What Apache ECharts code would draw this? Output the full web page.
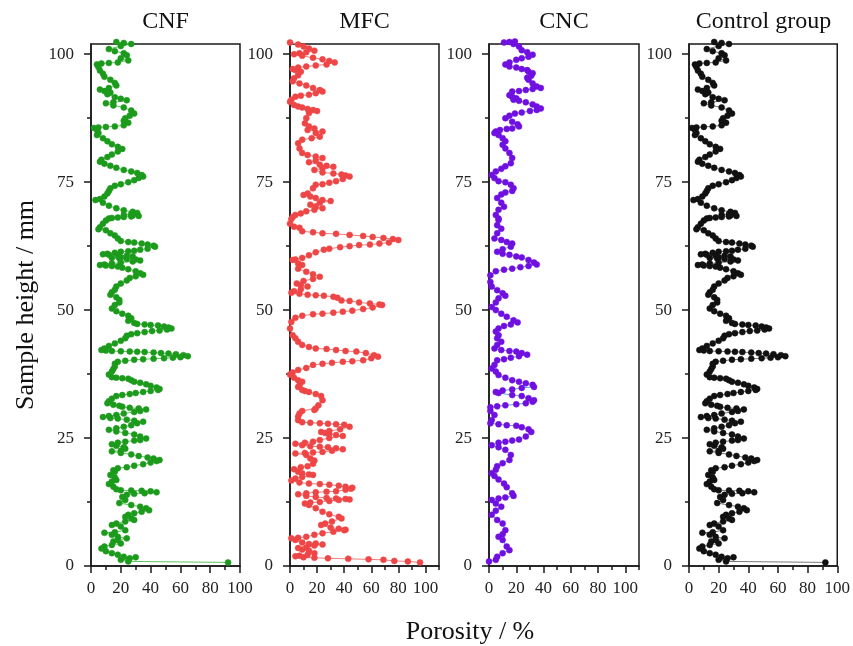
<!DOCTYPE html>
<html><head><meta charset="utf-8">
<script src="https://cdn.jsdelivr.net/npm/echarts@6/dist/echarts.min.js"></script>
<style>html,body{margin:0;padding:0;background:#fff}#c{width:853px;height:646px}</style>
</head><body><div id="c"></div>
<script>
const panelTitles = ['CNF', 'MFC', 'CNC', 'Control group'];
const xTickLabels = [0, 20, 40, 60, 80, 100];
const xMinorTicks = [10, 30, 50, 70, 90, 110];
const yTickLabels = [0, 25, 50, 75, 100];
const yMinorTicks = [12.5, 37.5, 62.5, 87.5];
const xAxisTitle = 'Porosity / %';
const yAxisTitle = 'Sample height / mm';

// each entry: [sample height (mm), porosity (%)]
const cnfData = [
[102.4,17],[102.2,22],[102.0,27],[101.6,20],[101.0,12],[100.6,16],[100.2,22],[99.8,24],[99.2,20],[98.8,25],
[98.4,18],[98.3,12],[98.2,7],[98.0,4],[97.5,5],[96.8,6],[96.2,8],[95.6,9],[95.0,13],[94.4,16],
[93.9,17],[93.4,12],[93.1,6],[92.8,9],[92.5,13],[92.2,11],[91.6,16],[91.3,20],[91.0,24],[90.6,15],
[90.4,10],[90.0,15],[89.6,22],[89.0,27],[88.4,29],[88.0,26],[87.5,23],[87.0,22],[86.6,25],[86.1,22],
[85.9,16],[85.8,10],[85.7,5],[85.6,2],[85.2,4],[84.6,5],[84.2,4],[83.6,8],[83.0,11],[82.4,14],
[81.9,18],[81.5,21],[81.0,18],[80.4,14],[79.9,11],[79.4,7],[79.0,6],[78.6,9],[78.2,13],[77.8,17],
[77.4,22],[77.1,27],[76.8,31],[76.4,34],[76.1,35],[75.8,32],[75.4,29],[75.0,25],[74.6,20],[74.3,16],
[73.8,13],[73.3,12],[72.8,11],[72.2,9],[71.7,6],[71.5,3],[71.0,8],[70.4,12],[69.9,17],[69.5,22],
[69.2,28],[69.0,31],[68.8,27],[68.6,22],[68.5,28],[68.4,32],[68.3,27],[68.2,22],[68.1,18],[68.0,14],
[67.9,12],[67.5,10],[66.9,8],[66.2,6],[65.8,5],[65.6,10],[65.0,13],[64.6,16],[64.0,18],[63.5,20],
[63.3,25],[63.2,29],[63.0,34],[62.8,38],[62.6,42],[62.4,43],[62.0,38],[61.8,33],[61.6,29],[61.5,25],
[61.4,20],[61.2,16],[61.0,11],[60.9,8],[60.8,12],[60.7,18],[60.6,24],[60.5,28],[60.3,20],[60.2,14],
[60.1,19],[60.0,24],[59.9,30],[59.7,33],[59.5,28],[59.3,20],[59.1,14],[58.9,9],[58.8,6],[58.7,10],
[58.6,14],[58.5,18],[58.3,21],[58.0,25],[57.6,30],[57.2,33],[56.9,35],[56.6,30],[56.3,26],[55.8,24],
[55.2,20],[54.6,17],[54.0,16],[53.5,14],[53.0,13],[52.5,17],[52.0,19],[51.5,19],[51.0,16],[50.3,14],
[49.8,17],[49.3,21],[48.9,25],[48.4,27],[47.9,25],[47.5,29],[47.3,31],[47.2,36],[47.1,40],[47.0,45],
[46.8,49],[46.6,52],[46.4,54],[46.2,51],[46.0,46],[45.9,41],[45.7,36],[45.5,31],[45.3,27],[45.0,24],
[44.5,23],[44.0,20],[43.5,16],[43.0,12],[42.5,9],[42.2,7],[42.1,10],[42.0,14],[41.95,20],[41.9,26],
[41.85,31],[41.8,36],[41.7,42],[41.6,47],[41.5,52],[41.4,57],[41.2,62],[41.0,65],[40.8,60],[40.7,55],
[40.6,49],[40.5,42],[40.4,35],[40.3,29],[40.1,23],[39.9,18],[39.5,16],[39.0,16],[38.5,15],[38.0,14],
[37.4,12],[36.9,14],[36.8,17],[36.7,21],[36.6,25],[36.3,27],[36.0,29],[35.8,33],[35.5,37],[35.2,40],
[34.9,44],[34.6,46],[34.4,45],[34.2,40],[34.0,35],[33.8,30],[33.6,26],[33.4,21],[33.2,17],[32.7,14],
[32.2,12],[31.8,11],[31.5,15],[31.3,19],[31.1,21],[30.9,26],[30.8,32],[30.6,37],[30.3,33],[30.1,29],
[29.8,22],[29.5,17],[29.3,12],[29.1,8],[28.9,13],[28.8,18],[28.6,24],[28.4,29],[28.2,35],[27.9,31],
[27.5,27],[27.2,22],[26.9,17],[26.6,12],[26.3,17],[26.0,23],[25.7,29],[25.3,33],[24.9,37],[24.6,33],
[24.5,29],[24.3,23],[24.1,18],[23.8,14],[23.5,17],[23.2,22],[22.9,23],[22.5,20],[22.4,14],[22.1,20],
[21.8,27],[21.5,32],[21.2,38],[21.0,42],[20.7,46],[20.5,44],[20.2,40],[19.9,35],[19.6,29],[19.3,24],
[19.1,18],[18.7,15],[18.4,16],[17.8,13],[17.3,16],[16.8,17],[16.5,14],[16.0,12],[15.5,15],[15.0,17],
[14.8,20],[14.75,27],[14.7,34],[14.6,40],[14.4,44],[14.2,36],[14.1,29],[13.9,24],[13.5,21],[12.9,23],
[12.3,19],[11.9,27],[11.6,33],[11.3,37],[10.9,39],[10.6,34],[10.3,29],[10.0,25],[9.6,23],[9.3,27],
[9.0,29],[8.7,23],[8.3,17],[8.0,14],[7.7,20],[7.0,23],[6.6,16],[6.5,9],[6.1,14],[5.7,18],
[5.4,24],[5.1,18],[4.8,15],[4.4,20],[4.1,14],[3.8,9],[3.4,7],[2.9,10],[2.5,14],[2.2,18],
[1.8,22],[1.5,26],[1.7,30],[1.2,20],[0.9,25],[0.7,92]
];

const mfcData = [
[102.3,0],[101.9,6],[101.5,10],[101.1,14],[100.7,18],[100.4,12],[100.2,7],[100.0,3],[99.7,9],[99.3,17],
[99.0,24],[98.7,29],[98.4,33],[98.0,27],[97.8,19],[97.6,12],[97.4,6],[97.1,2],[96.9,4],[96.6,8],
[95.9,6],[95.3,3],[94.7,2],[94.3,7],[93.9,12],[93.4,17],[93.0,22],[92.7,24],[92.4,19],[92.1,14],
[91.9,8],[91.7,4],[91.1,1],[90.7,0],[90.1,3],[89.8,6],[89.6,9],[89.3,13],[89.1,17],[88.9,20],
[88.5,14],[87.5,12],[86.5,11],[85.9,14],[85.5,18],[85.2,13],[84.9,24],[84.6,19],[83.9,22],[83.6,16],
[83.3,9],[82.6,6],[81.6,7],[80.7,9],[80.3,13],[80.0,19],[79.7,24],[79.2,19],[78.9,14],[78.4,22],
[78.2,27],[78.0,32],[77.7,24],[77.4,18],[76.9,24],[76.7,32],[76.5,38],[76.3,41],[76.1,44],[75.6,39],
[75.2,34],[74.9,29],[74.6,24],[74.5,19],[73.8,17],[72.8,13],[72.5,10],[72.2,15],[71.9,19],[71.5,24],
[71.3,30],[71.0,22],[70.6,15],[70.2,19],[69.9,24],[69.6,18],[69.3,12],[68.9,8],[68.6,4],[68.2,2],
[67.8,1],[66.9,0],[66.3,3],[66.1,7],[65.4,9],[65.2,17],[65.0,24],[64.9,34],[64.7,44],[64.5,54],
[64.3,61],[64.1,69],[63.9,76],[63.7,80],[63.2,73],[63.0,66],[62.8,59],[62.7,51],[62.5,44],[62.3,37],
[62.0,29],[61.8,25],[61.3,19],[60.7,14],[60.2,9],[59.9,4],[59.8,2],[59.1,6],[58.8,9],[58.1,6],
[57.5,12],[57.0,17],[56.5,22],[56.1,17],[55.7,10],[55.2,5],[54.9,8],[54.6,13],[54.1,8],[53.7,3],
[53.4,1],[53.2,7],[53.0,13],[52.9,19],[52.8,25],[52.6,32],[52.4,35],[51.9,38],[51.8,44],[51.5,51],
[51.3,59],[51.1,66],[51.0,68],[50.5,61],[50.2,54],[49.9,46],[49.7,39],[49.5,32],[49.3,24],[49.2,17],
[48.9,9],[48.5,4],[47.7,1],[46.4,0],[45.1,2],[44.5,4],[43.8,6],[43.2,9],[42.8,14],[42.5,19],
[42.4,27],[42.2,34],[42.0,41],[41.9,49],[41.6,56],[41.2,62],[40.9,65],[40.6,60],[40.2,54],[40.0,46],
[39.9,39],[39.7,31],[39.5,24],[39.3,17],[38.7,12],[38.3,6],[37.8,2],[37.4,0],[36.8,3],[36.3,6],
[36.0,9],[35.3,7],[35.0,6],[34.4,9],[34.2,11],[34.0,14],[33.6,19],[33.2,23],[32.4,24],[31.4,21],
[30.8,19],[30.5,18],[30.3,9],[29.8,7],[29.2,6],[28.5,6],[28.1,9],[28.0,15],[27.9,22],[27.8,28],
[27.7,34],[27.6,40],[27.2,44],[26.7,37],[26.4,29],[26.2,23],[26.0,26],[25.8,29],[25.6,34],[25.4,39],
[25.0,29],[24.6,22],[24.3,17],[24.1,11],[23.9,4],[23.6,9],[23.4,15],[23.3,22],[23.2,28],[23.0,34],
[22.8,39],[22.5,31],[22.3,24],[22.2,17],[22.1,11],[22.0,4],[21.7,12],[21.0,15],[20.6,18],[20.0,17],
[19.5,13],[19.3,8],[18.9,3],[18.4,6],[18.1,9],[17.9,14],[17.8,17],[17.4,9],[17.1,4],[16.7,1],
[16.3,7],[16.1,14],[16.0,22],[15.9,29],[15.7,36],[15.5,41],[15.3,46],[15.1,45],[14.9,41],[14.6,34],
[14.5,27],[14.4,19],[14.2,12],[14.0,6],[13.7,12],[13.5,19],[13.3,27],[13.2,34],[13.1,41],[13.0,44],
[12.9,36],[12.7,29],[12.5,22],[12.4,15],[12.2,11],[11.9,14],[11.3,19],[10.6,24],[10.1,29],[9.6,36],
[9.3,38],[8.7,31],[8.3,26],[8.0,23],[7.5,30],[7.3,36],[7.1,41],[7.0,40],[6.7,32],[6.4,24],
[6.1,18],[5.7,12],[5.5,6],[5.4,1],[5.1,4],[4.6,9],[4.3,14],[4.4,19],[4.2,24],[4.0,18],
[3.6,12],[3.5,6],[3.2,9],[3.0,14],[2.5,18],[2.2,13],[2.0,7],[1.9,4],[1.7,10],[1.6,18],
[1.5,28],[1.4,43],[1.3,58],[1.2,69],[1.0,77],[0.9,87],[0.7,96]
];

const cncData = [
[102.3,11],[102.4,15],[102.5,19],[102.0,18],[101.5,22],[100.8,24],[100.4,28],[99.9,32],[99.5,29],[99.2,24],
[98.9,20],[98.4,15],[98.0,12],[97.6,15],[97.4,20],[97.1,24],[96.9,28],[96.6,29],[96.3,32],[95.8,31],
[95.4,28],[95.0,29],[94.3,32],[93.7,35],[93.4,38],[93.2,32],[93.0,27],[92.8,22],[92.7,17],[92.0,15],
[91.7,17],[91.4,20],[91.1,18],[90.9,22],[90.6,27],[90.2,32],[89.8,35],[89.4,38],[89.1,35],[88.9,30],
[88.6,24],[88.4,19],[88.0,15],[87.5,12],[86.8,17],[86.3,21],[85.9,22],[85.5,17],[85.4,13],[85.2,8],
[84.9,5],[84.6,4],[84.2,7],[83.6,10],[83.0,12],[82.3,10],[81.6,12],[80.7,15],[79.7,17],[78.7,16],
[78.1,12],[77.6,9],[77.1,5],[76.4,2],[75.8,4],[75.2,7],[75.0,12],[74.5,16],[73.8,18],[73.3,17],
[73.0,12],[72.6,9],[71.9,6],[71.0,9],[70.2,11],[69.6,7],[68.6,5],[67.9,7],[67.6,7],[66.6,6],
[65.9,9],[65.0,6],[64.0,4],[63.7,9],[63.3,13],[63.0,17],[62.4,16],[61.9,10],[61.4,6],[61.0,10],
[60.8,15],[60.5,20],[60.3,24],[59.8,29],[59.3,33],[58.9,35],[58.6,29],[58.4,23],[58.1,17],[57.9,11],
[57.6,5],[56.8,1],[55.5,1],[54.6,2],[53.9,6],[53.3,10],[52.8,12],[52.3,7],[51.5,5],[50.6,2],
[50.0,5],[49.3,9],[48.7,13],[48.0,18],[47.6,21],[47.2,16],[46.9,11],[46.4,7],[45.8,5],[45.1,7],
[44.5,6],[43.8,9],[43.2,6],[42.5,4],[42.2,9],[42.0,15],[41.9,20],[41.6,24],[41.3,28],[41.0,22],
[40.7,16],[40.4,11],[40.2,6],[39.3,4],[38.6,2],[38.0,5],[37.3,7],[36.8,12],[36.3,17],[36.0,22],
[35.7,27],[35.4,32],[35.0,33],[34.8,24],[34.5,17],[34.3,10],[34.0,5],[33.8,7],[33.4,17],[33.2,24],
[32.8,29],[32.4,33],[32.1,32],[31.8,27],[31.6,20],[31.4,12],[31.2,6],[31.0,1],[30.3,1],[29.5,4],
[28.5,2],[27.9,1],[27.7,7],[27.5,13],[27.4,20],[27.1,24],[26.7,29],[26.2,31],[25.3,27],[24.7,22],
[24.5,17],[24.3,12],[24.1,7],[23.6,2],[23.2,7],[22.7,12],[21.7,16],[20.7,15],[20.1,10],[19.5,6],
[18.8,5],[18.1,2],[17.6,4],[16.9,7],[16.1,11],[15.4,13],[14.2,17],[13.7,18],[13.4,12],[13.2,7],
[12.9,2],[12.2,5],[11.6,9],[10.8,5],[10.0,2],[9.0,6],[8.3,10],[7.0,12],[6.2,10],[5.7,7],
[5.1,10],[3.8,13],[3.1,15],[2.5,10],[1.8,6],[1.2,5],[0.9,0]
];

const controlData = [
[102.4,17],[102.2,22],[102.0,27],[101.6,20],[101.0,12],[100.6,16],[100.2,22],[99.8,24],[99.2,20],[98.8,25],
[98.4,18],[98.3,12],[98.2,7],[98.0,4],[97.5,5],[96.8,6],[96.2,8],[95.6,9],[95.0,13],[94.4,16],
[93.9,17],[93.4,12],[93.1,6],[92.8,9],[92.5,13],[92.2,11],[91.6,16],[91.3,20],[91.0,24],[90.6,15],
[90.4,10],[90.0,15],[89.6,22],[89.0,27],[88.4,29],[88.0,26],[87.5,23],[87.0,22],[86.6,25],[86.1,22],
[85.9,16],[85.8,10],[85.7,5],[85.6,2],[85.2,4],[84.6,5],[84.2,4],[83.6,8],[83.0,11],[82.4,14],
[81.9,18],[81.5,21],[81.0,18],[80.4,14],[79.9,11],[79.4,7],[79.0,6],[78.6,9],[78.2,13],[77.8,17],
[77.4,22],[77.1,27],[76.8,31],[76.4,34],[76.1,35],[75.8,32],[75.4,29],[75.0,25],[74.6,20],[74.3,16],
[73.8,13],[73.3,12],[72.8,11],[72.2,9],[71.7,6],[71.5,3],[71.0,8],[70.4,12],[69.9,17],[69.5,22],
[69.2,28],[69.0,31],[68.8,27],[68.6,22],[68.5,28],[68.4,32],[68.3,27],[68.2,22],[68.1,18],[68.0,14],
[67.9,12],[67.5,10],[66.9,8],[66.2,6],[65.8,5],[65.6,10],[65.0,13],[64.6,16],[64.0,18],[63.5,20],
[63.3,25],[63.2,29],[63.0,34],[62.8,38],[62.6,42],[62.4,43],[62.0,38],[61.8,33],[61.6,29],[61.5,25],
[61.4,20],[61.2,16],[61.0,11],[60.9,8],[60.8,12],[60.7,18],[60.6,24],[60.5,28],[60.3,20],[60.2,14],
[60.1,19],[60.0,24],[59.9,30],[59.7,33],[59.5,28],[59.3,20],[59.1,14],[58.9,9],[58.8,6],[58.7,10],
[58.6,14],[58.5,18],[58.3,21],[58.0,25],[57.6,30],[57.2,33],[56.9,35],[56.6,30],[56.3,26],[55.8,24],
[55.2,20],[54.6,17],[54.0,16],[53.5,14],[53.0,13],[52.5,17],[52.0,19],[51.5,19],[51.0,16],[50.3,14],
[49.8,17],[49.3,21],[48.9,25],[48.4,27],[47.9,25],[47.5,29],[47.3,31],[47.2,36],[47.1,40],[47.0,45],
[46.8,49],[46.6,52],[46.4,54],[46.2,51],[46.0,46],[45.9,41],[45.7,36],[45.5,31],[45.3,27],[45.0,24],
[44.5,23],[44.0,20],[43.5,16],[43.0,12],[42.5,9],[42.2,7],[42.1,10],[42.0,14],[41.95,20],[41.9,26],
[41.85,31],[41.8,36],[41.7,42],[41.6,47],[41.5,52],[41.4,57],[41.2,62],[41.0,65],[40.8,60],[40.7,55],
[40.6,49],[40.5,42],[40.4,35],[40.3,29],[40.1,23],[39.9,18],[39.5,16],[39.0,16],[38.5,15],[38.0,14],
[37.4,12],[36.9,14],[36.8,17],[36.7,21],[36.6,25],[36.3,27],[36.0,29],[35.8,33],[35.5,37],[35.2,40],
[34.9,44],[34.6,46],[34.4,45],[34.2,40],[34.0,35],[33.8,30],[33.6,26],[33.4,21],[33.2,17],[32.7,14],
[32.2,12],[31.8,11],[31.5,15],[31.3,19],[31.1,21],[30.9,26],[30.8,32],[30.6,37],[30.3,33],[30.1,29],
[29.8,22],[29.5,17],[29.3,12],[29.1,8],[28.9,13],[28.8,18],[28.6,24],[28.4,29],[28.2,35],[27.9,31],
[27.5,27],[27.2,22],[26.9,17],[26.6,12],[26.3,17],[26.0,23],[25.7,29],[25.3,33],[24.9,37],[24.6,33],
[24.5,29],[24.3,23],[24.1,18],[23.8,14],[23.5,17],[23.2,22],[22.9,23],[22.5,20],[22.4,14],[22.1,20],
[21.8,27],[21.5,32],[21.2,38],[21.0,42],[20.7,46],[20.5,44],[20.2,40],[19.9,35],[19.6,29],[19.3,24],
[19.1,18],[18.7,15],[18.4,16],[17.8,13],[17.3,16],[16.8,17],[16.5,14],[16.0,12],[15.5,15],[15.0,17],
[14.8,20],[14.75,27],[14.7,34],[14.6,40],[14.4,44],[14.2,36],[14.1,29],[13.9,24],[13.5,21],[12.9,23],
[12.3,19],[11.9,27],[11.6,33],[11.3,37],[10.9,39],[10.6,34],[10.3,29],[10.0,25],[9.6,23],[9.3,27],
[9.0,29],[8.7,23],[8.3,17],[8.0,14],[7.7,20],[7.0,23],[6.6,16],[6.5,9],[6.1,14],[5.7,18],
[5.4,24],[5.1,18],[4.8,15],[4.4,20],[4.1,14],[3.8,9],[3.4,7],[2.9,10],[2.5,14],[2.2,18],
[1.8,22],[1.5,26],[1.7,30],[1.2,20],[0.9,25],[0.7,92]
];

const seriesData = [cnfData, mfcData, cncData, controlData];
const xMaxes = [100, 110, 110, 100];
const yMax = 102;

const FONT = '"Liberation Serif","Times New Roman",serif';
const AX = '#1a1a1a';
const gridPos = [
  {left: 91, width: 149},
  {left: 290, width: 149},
  {left: 489, width: 150},
  {left: 689, width: 149}
];
const styles = [
  {dot: '#1c9a1c', line: '#5cc65c'},
  {dot: '#ee4646', line: '#f27c7c'},
  {dot: '#7010e0', line: '#5aa6ee'},
  {dot: '#111111', line: '#7a7a7a'}
];

const grid = [], xAxis = [], yAxis = [], series = [], graphic = [];
gridPos.forEach((g, i) => {
  grid.push({left: g.left, width: g.width, top: 44, height: 522, show: true,
    borderColor: AX, borderWidth: 1.5, backgroundColor: 'transparent'});
  const xm = xMaxes[i];
  xAxis.push({
    gridIndex: i, type: 'value', position: 'bottom', min: 0, max: xm,
    axisLine: {show: true, onZero: false, lineStyle: {color: AX, width: 1.5}},
    axisTick: {show: true, inside: false, length: 7, customValues: xTickLabels, lineStyle: {color: AX, width: 1.5}},
    axisLabel: {customValues: xTickLabels, margin: 14, fontFamily: FONT, fontSize: 17, color: '#222'},
    splitLine: {show: false}
  });
  xAxis.push({
    gridIndex: i, type: 'value', position: 'bottom', min: 0, max: xm,
    axisLine: {show: false},
    axisTick: {show: true, inside: false, length: 4, customValues: xMinorTicks.filter(v => v <= xm), lineStyle: {color: AX, width: 1.5}},
    axisLabel: {show: false},
    splitLine: {show: false}
  });
  yAxis.push({
    gridIndex: i, type: 'value', position: 'left', min: 0, max: yMax,
    axisLine: {show: true, onZero: false, lineStyle: {color: AX, width: 1.5}},
    axisTick: {show: true, inside: false, length: 7, customValues: yTickLabels, lineStyle: {color: AX, width: 1.5}},
    axisLabel: {customValues: yTickLabels, margin: 17, fontFamily: FONT, fontSize: 17, color: '#222'},
    splitLine: {show: false}
  });
  yAxis.push({
    gridIndex: i, type: 'value', position: 'left', min: 0, max: yMax,
    axisLine: {show: false},
    axisTick: {show: true, inside: false, length: 4, customValues: yMinorTicks, lineStyle: {color: AX, width: 1.5}},
    axisLabel: {show: false},
    splitLine: {show: false}
  });
  series.push({
    type: 'line', xAxisIndex: 2 * i, yAxisIndex: 2 * i,
    data: seriesData[i].map(d => [d[1], d[0]]),
    symbol: 'circle', symbolSize: 6, showSymbol: true, clip: false,
    lineStyle: {color: styles[i].line, width: 1},
    itemStyle: {color: styles[i].dot, borderColor: styles[i].dot, borderWidth: 0.5},
    emphasis: {disabled: true}, silent: true
  });
  graphic.push({
    type: 'text', x: g.left + g.width / 2, y: 22,
    style: {text: panelTitles[i], font: '24px ' + FONT, fill: '#111',
      textAlign: 'center', textVerticalAlign: 'middle', align: 'center', verticalAlign: 'middle'}
  });
});
graphic.push({
  type: 'text', x: 26, y: 305, rotation: Math.PI / 2,
  style: {text: yAxisTitle, font: '26px ' + FONT, fill: '#111',
    textAlign: 'center', textVerticalAlign: 'middle', align: 'center', verticalAlign: 'middle'}
});
graphic.push({
  type: 'text', x: 470, y: 632,
  style: {text: xAxisTitle, font: '26px ' + FONT, fill: '#111',
    textAlign: 'center', textVerticalAlign: 'middle', align: 'center', verticalAlign: 'middle'}
});

const chart = echarts.init(document.getElementById('c'), null, {renderer: 'canvas'});
chart.setOption({
  animation: false,
  backgroundColor: '#fff',
  grid, xAxis, yAxis, series, graphic
});
</script>
</body></html>
